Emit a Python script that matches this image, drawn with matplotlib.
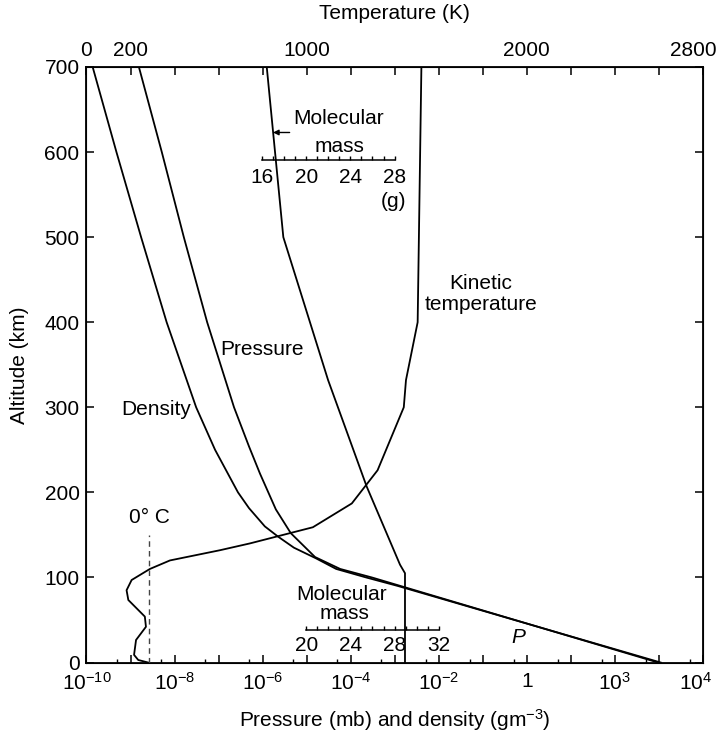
import matplotlib.pyplot as plt
import numpy as np
from matplotlib.ticker import NullFormatter
from matplotlib.transforms import ScaledTranslation

plt.rcParams['font.family'] = ['Liberation Sans', 'DejaVu Sans']
plt.rcParams['mathtext.fontset'] = 'custom'
plt.rcParams['mathtext.rm'] = 'Liberation Sans'
plt.rcParams['mathtext.it'] = 'Liberation Sans:italic'
plt.rcParams['font.size'] = 15

# pressure (log10 mb) vs altitude (km)
p_alt = [0, 50, 90, 100, 110, 124, 152, 180, 222, 254, 300, 400, 500, 600, 700]
p_log = [2.98, -0.27, -2.87, -3.52, -4.24, -4.81, -5.36, -5.70, -6.06, -6.31,
         -6.65, -7.26, -7.79, -8.29, -8.81]

# density (log10 g m^-3) vs altitude (km)
d_alt = [0, 50, 90, 100, 110, 122.5, 135, 148, 160, 181.5, 200, 250, 300, 400,
         500, 600, 700]
d_log = [3.04, -0.28, -2.93, -3.65, -4.33, -4.79, -5.29, -5.65, -5.95, -6.31,
         -6.56, -7.08, -7.51, -8.18, -8.76, -9.32, -9.86]

# kinetic temperature (K) vs altitude (km)
t_alt = [0, 3, 9, 26.5, 42, 54, 73.5, 85, 97, 110, 120, 132, 140, 159, 187,
         226, 300, 332, 400, 700]
t_k = [280, 235, 216, 225, 270, 265, 190, 182, 205, 288, 379, 606, 742, 1028,
       1205, 1322, 1441, 1451, 1504, 1521]

# molecular mass (g) vs altitude (km)
m_alt = [0, 105, 115, 207, 332, 500, 700]
m_val = [28.94, 28.94, 28.49, 25.47, 21.98, 17.93, 16.43]

zero_c = 285  # position of the 0 C marker on the temperature scale

bottom_labels = {-10: '$10^{-10}$', -8: '$10^{-8}$', -6: '$10^{-6}$',
                 -4: '$10^{-4}$', -2: '$10^{-2}$', 0: '1', 2: '$10^3$',
                 4: '$10^4$'}
top_labels = {0: '0', 200: '200', 1000: '1000', 2000: '2000', 2800: '2800'}

fig = plt.figure(figsize=(7.22, 7.32), dpi=100)
ax = fig.add_axes([0.1198, 0.0949, 0.8539, 0.8136])
lw = 1.3

# bottom axis: pressure and density
ax.set_xscale('log')
ax.plot(10 ** np.array(p_log), p_alt, color='k', lw=lw)
ax.plot(10 ** np.array(d_log), d_alt, color='k', lw=lw)
ax.set_xlim(1e-10, 1e4)
ax.set_ylim(0, 700)
dec = np.arange(-10, 5)
ax.set_xticks(10.0 ** dec, [bottom_labels.get(d, '') for d in dec])
ax.set_xticks(5 * 10.0 ** np.arange(-10, 4), minor=True)
ax.xaxis.set_minor_formatter(NullFormatter())
ax.set_yticks(np.arange(0, 701, 100))
ax.tick_params(which='major', direction='in', length=6, width=1.1,
               right=True, pad=5)
ax.tick_params(axis='x', which='major', pad=7)
ax.tick_params(which='minor', direction='in', length=3, width=1.0)
ax.set_xlabel('Pressure (mb) and density (gm$^{-3}$)', labelpad=9)
ax.set_ylabel('Altitude (km)', labelpad=11)
for s in ax.spines.values():
    s.set_linewidth(lw)

ax.text(10 ** -6.02, 368, 'Pressure', ha='center', va='center')
ax.text(10 ** -8.41, 297, 'Density', ha='center', va='center')
ax.text(10 ** -0.195, 30, 'P', ha='center', va='center', style='italic')

# top axis: temperature
ax_t = ax.twiny()
ax_t.set_xlim(0, 2800)
tt = np.arange(0, 2801, 200)
ax_t.set_xticks(tt, [top_labels.get(t, '') for t in tt])
ax_t.tick_params(direction='in', length=6, width=1.1, pad=5)
ax_t.set_xlabel('Temperature (K)', labelpad=16)
ax_t.plot(t_k, t_alt, color='k', lw=lw)
ax_t.plot([zero_c, zero_c], [0, 150], color='#444444', lw=1.0,
          ls=(0, (4, 3)))
ax_t.text(zero_c, 170, '0\u00b0 C', ha='center', va='center')
ax_t.text(1790, 433, 'Kinetic\ntemperature', ha='center', va='center',
          linespacing=1.15)

# nudge the two edge labels inwards, as in the original
lab = ax_t.xaxis.get_majorticklabels()[-1]
lab.set_transform(lab.get_transform() +
                  ScaledTranslation(-0.10, 0, fig.dpi_scale_trans))
lab = ax.xaxis.get_majorticklabels()[-1]
lab.set_transform(lab.get_transform() +
                  ScaledTranslation(-0.07, 0, fig.dpi_scale_trans))

# molecular mass scale (hidden axis)
ax_m = ax.twiny()
ax_m.set_xlim(0.118, 55.91)
ax_m.set_ylim(0, 700)
ax_m.set_axis_off()
ax_m.plot(m_val, m_alt, color='k', lw=lw)

tick_h = 4.5
# upper ruler
r1 = 591
ax_m.plot([16, 28], [r1, r1], color='k', lw=1.1)
ax_m.vlines(np.arange(16, 29), r1, r1 + tick_h, color='k', lw=1.0)
for v in [16, 20, 24, 28]:
    ax_m.text(v, 570, str(v), ha='center', va='center')
ax_m.text(27.86, 542, '(g)', ha='center', va='center')
ax_m.text(22.97, 639, 'Molecular', ha='center', va='center')
ax_m.text(22.97, 607, 'mass', ha='center', va='center')
ax_m.annotate('', xy=(17.0, 623), xytext=(18.5, 623),
              arrowprops=dict(arrowstyle='-|>', lw=1.0, color='k',
                              mutation_scale=8, shrinkA=0, shrinkB=0))

# lower ruler
r2 = 38
ax_m.plot([20, 32], [r2, r2], color='k', lw=1.1)
ax_m.vlines(np.arange(20, 33), r2, r2 + tick_h, color='k', lw=1.0)
for v in [20, 24, 28, 32]:
    ax_m.text(v, 20.5, str(v), ha='center', va='center')
ax_m.text(23.2, 80, 'Molecular', ha='center', va='center')
ax_m.text(23.5, 58, 'mass', ha='center', va='center')

fig.savefig('out.png', dpi=100)
